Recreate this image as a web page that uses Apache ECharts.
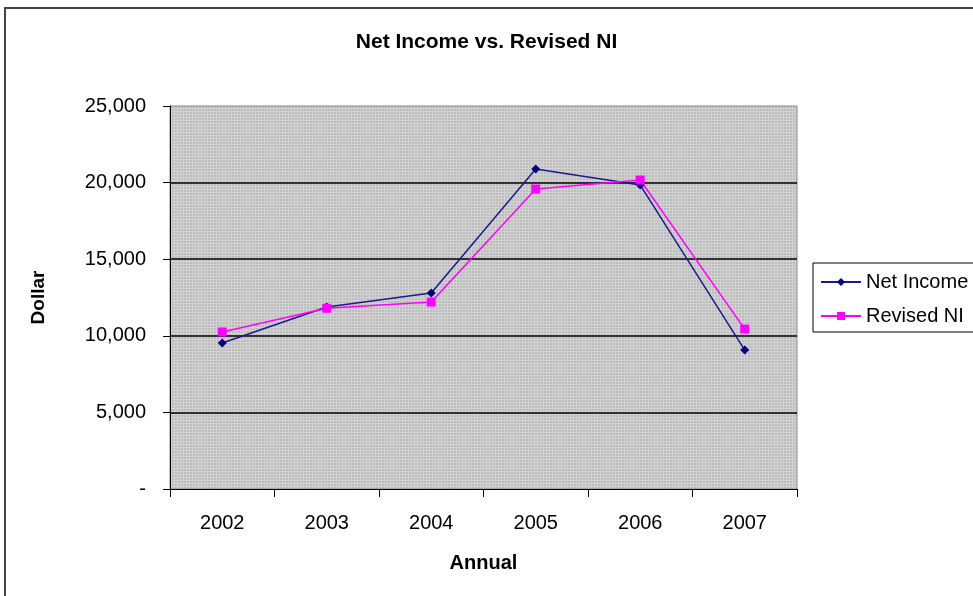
<!DOCTYPE html>
<html>
<head>
<meta charset="utf-8">
<script src="https://cdn.jsdelivr.net/npm/echarts@6/dist/echarts.min.js"></script>
<style>
  html, body { margin: 0; padding: 0; background: #fff; }
  #frame { position: absolute; left: 4px; top: 7px; width: 990px; height: 600px; border: 2px solid #444; box-sizing: border-box; }
  #chart { position: absolute; left: 0; top: 0; width: 973px; height: 596px; }
</style>
</head>
<body>
<div id="frame"></div>
<div id="chart"></div>
<script>
const years = ['2002', '2003', '2004', '2005', '2006', '2007'];
const netIncome = [9530, 11880, 12800, 20890, 19840, 9070];
const revisedNI = [10250, 11800, 12200, 19580, 20170, 10440];
const yTicks = [0, 5000, 10000, 15000, 20000, 25000];

// dotted grey fill of the plot area
const pat = document.createElement('canvas');
pat.width = 3; pat.height = 3;
const pc = pat.getContext('2d');
pc.fillStyle = '#bcbcbc'; pc.fillRect(0, 0, 3, 3);
pc.fillStyle = '#d2d2d2'; pc.fillRect(0, 0, 3, 1); pc.fillRect(0, 0, 1, 3);

const font = 'Liberation Sans';
const chart = echarts.init(document.getElementById('chart'));
chart.setOption({
  animation: false,
  textStyle: { fontFamily: font, color: '#000' },
  title: {
    text: 'Net Income vs. Revised NI',
    left: 'center', top: 27,
    textStyle: { fontFamily: font, fontSize: 21, fontWeight: 'bold', color: '#000' }
  },
  grid: {
    left: 170, right: 176, top: 106, bottom: 107,
    show: true,
    backgroundColor: { image: pat, repeat: 'repeat' },
    borderColor: '#8a8a8a', borderWidth: 1
  },
  legend: {
    orient: 'vertical',
    left: 813, top: 263,
    padding: [9, 8, 6, 7],
    itemGap: 14,
    itemWidth: 40, itemHeight: 10,
    borderColor: '#000', borderWidth: 1,
    backgroundColor: '#fff',
    textStyle: { fontFamily: font, fontSize: 20, color: '#000' },
    data: ['Net Income', 'Revised NI']
  },
  xAxis: {
    type: 'category',
    data: years,
    boundaryGap: true,
    name: 'Annual',
    nameLocation: 'middle',
    nameGap: 64,
    nameTextStyle: { fontFamily: font, fontSize: 20, fontWeight: 'bold', color: '#000' },
    axisLine: { lineStyle: { color: '#000', width: 1 } },
    axisTick: { show: true, length: 8, alignWithLabel: false, lineStyle: { color: '#000' } },
    axisLabel: { fontFamily: font, fontSize: 20, color: '#000', margin: 24 },
    splitLine: { show: false }
  },
  yAxis: {
    type: 'value',
    min: yTicks[0], max: yTicks[yTicks.length - 1], interval: 5000,
    name: 'Dollar',
    nameLocation: 'middle',
    nameGap: 122,
    nameRotate: 90,
    nameTextStyle: { fontFamily: font, fontSize: 19, fontWeight: 'bold', color: '#000' },
    axisLine: { show: true, lineStyle: { color: '#000', width: 1 } },
    axisTick: { show: true, length: 7, lineStyle: { color: '#000' } },
    axisLabel: {
      fontFamily: font, fontSize: 20, color: '#000', margin: 24,
      formatter: v => v === 0 ? '-' : v.toLocaleString('en-US')
    },
    splitLine: { show: true, showMaxLine: false, showMinLine: false, lineStyle: { color: '#000', width: 1.5 } }
  },
  series: [
    {
      name: 'Net Income',
      type: 'line',
      data: netIncome,
      symbol: 'diamond', symbolSize: 9,
      itemStyle: { color: '#000080' },
      lineStyle: { color: '#1a1a8c', width: 1.5 }
    },
    {
      name: 'Revised NI',
      type: 'line',
      data: revisedNI,
      symbol: 'rect', symbolSize: 9,
      itemStyle: { color: '#ff00ff' },
      lineStyle: { color: '#ff00ff', width: 1.5 }
    }
  ]
});
</script>
</body>
</html>
